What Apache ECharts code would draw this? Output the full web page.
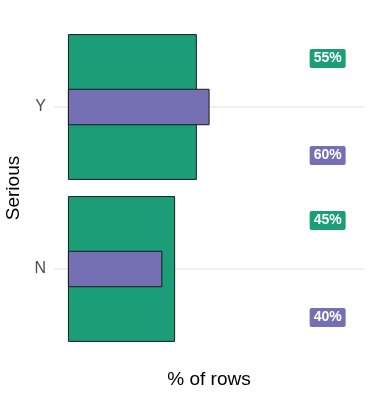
<!DOCTYPE html>
<html>
<head>
<meta charset="utf-8">
<script src="https://cdn.jsdelivr.net/npm/echarts@6/dist/echarts.min.js"></script>
<style>
html,body{margin:0;padding:0;background:#fff;}
#chart{width:375px;height:400px;}
</style>
</head>
<body>
<div id="chart"></div>
<script>
const categories = ['N', 'Y'];
const greenValues = [45.4, 54.6];
const purpleValues = [40, 60];
const greenLabels = ['45%', '55%'];
const purpleLabels = ['40%', '60%'];
const xTitle = '% of rows';
const yTitle = 'Serious';

const GREEN = '#1b9e77';
const PURPLE = '#7570b3';
const LABEL_X = 110;
const FONT = '"Liberation Sans", Arial, sans-serif';

const badgeData = [];
categories.forEach((c, i) => {
  badgeData.push([LABEL_X, i, greenLabels[i], 0]);
  badgeData.push([LABEL_X, i, purpleLabels[i], 1]);
});

const chart = echarts.init(document.getElementById('chart'), null, {renderer: 'canvas'});
chart.setOption({
  animation: false,
  backgroundColor: '#ffffff',
  grid: {left: 54, right: 11, top: 26, bottom: 50, containLabel: false, outerBoundsMode: 'none'},
  xAxis: {
    type: 'value', min: -5.9, max: 125.4,
    axisLabel: {show: false}, axisLine: {show: false}, axisTick: {show: false}, splitLine: {show: false},
    name: xTitle, nameLocation: 'middle', nameGap: 20,
    nameTextStyle: {fontFamily: FONT, fontSize: 19, color: '#000'}
  },
  yAxis: [{
    type: 'category', data: categories,
    axisLine: {show: false}, axisTick: {show: false}, splitLine: {show: false},
    axisLabel: {color: '#4d4d4d', fontSize: 16, fontFamily: FONT, margin: 8},
    name: yTitle, nameLocation: 'middle', nameGap: 29, nameRotate: 90,
    nameTextStyle: {fontFamily: FONT, fontSize: 19, color: '#000'}
  }, {
    type: 'category', data: categories, show: false
  }],
  series: [{
    type: 'bar', yAxisIndex: 0, data: greenValues, barWidth: '90%', z: 2,
    itemStyle: {color: GREEN, borderColor: '#1a1a1a', borderWidth: 1},
    markLine: {
      z: 1, silent: true, symbol: 'none', label: {show: false},
      lineStyle: {color: '#ebebeb', width: 1.5, type: 'solid'},
      data: [{yAxis: 0}, {yAxis: 1}]
    }
  }, {
    type: 'bar', yAxisIndex: 1, data: purpleValues, barWidth: '22.5%', z: 3,
    itemStyle: {color: PURPLE, borderColor: '#1a1a1a', borderWidth: 1}
  }, {
    type: 'custom', xAxisIndex: 0, yAxisIndex: 0, data: badgeData, z: 4,
    renderItem: function (params, api) {
      const p = api.coord([api.value(0), api.value(1)]);
      const kind = badgeData[params.dataIndex][3];
      const dy = kind === 0 ? -48.5 : 48.5;
      return {
        type: 'text',
        x: p[0], y: p[1] + dy,
        style: {
          text: badgeData[params.dataIndex][2],
          fill: '#fff', fontWeight: 'bold', fontSize: 14, fontFamily: FONT,
          align: 'center', verticalAlign: 'middle',
          backgroundColor: kind === 0 ? GREEN : PURPLE,
          padding: [3, 4, 2, 4], borderRadius: 2
        }
      };
    }
  }]
});
</script>
</body>
</html>
